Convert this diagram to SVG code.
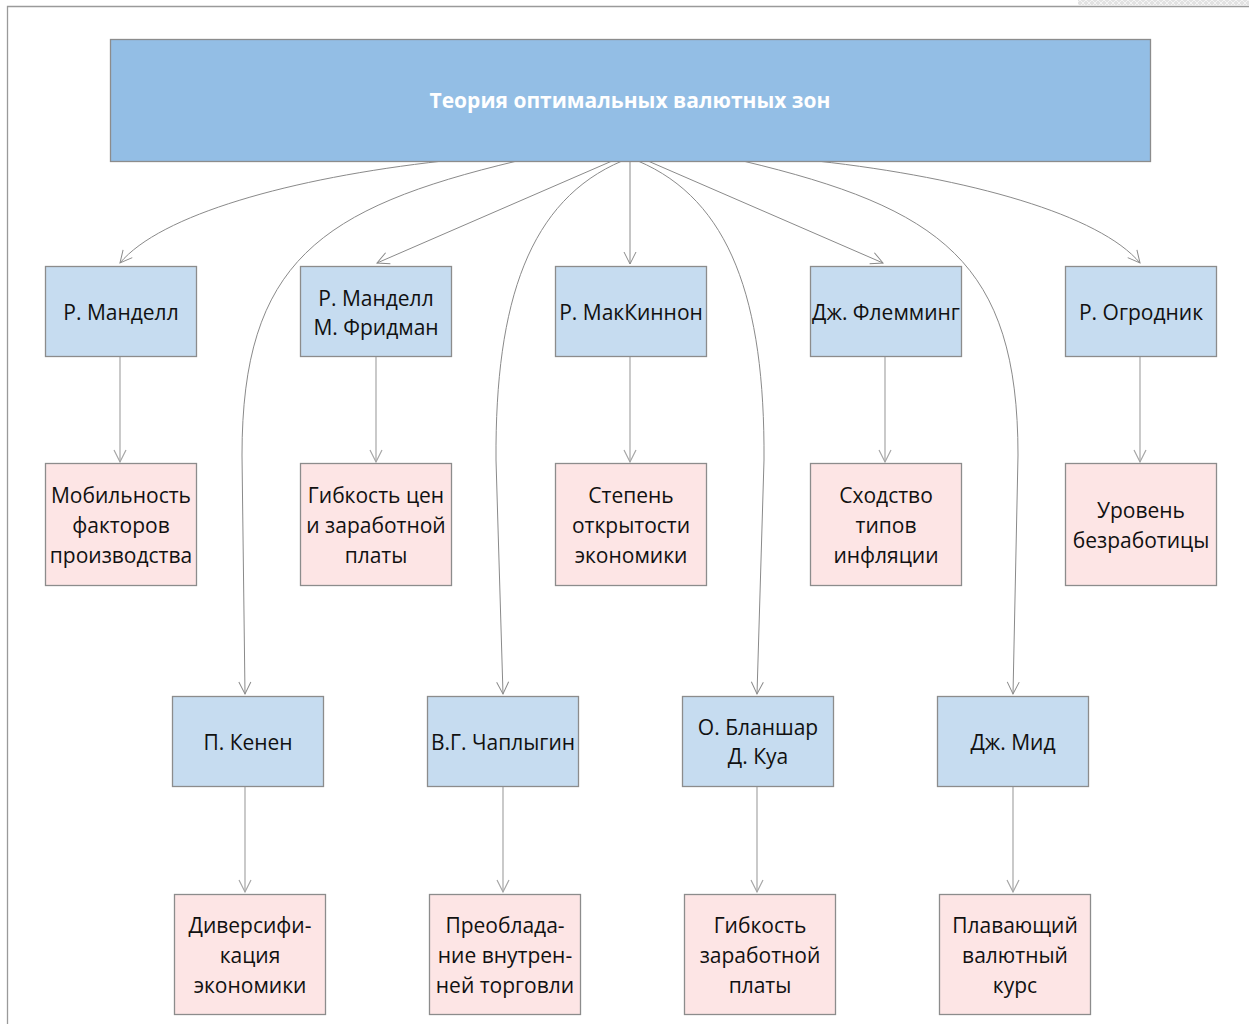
<svg xmlns="http://www.w3.org/2000/svg" width="1249" height="1025" viewBox="0 0 1249 1025">
<style>
  .frame{stroke:#9a9a9a;stroke-width:1.3;fill:none}
  .top{fill:#93bee5;stroke:#8c8c8c;stroke-width:1.3}
  .who{fill:#c6dcf0;stroke:#8c8c8c;stroke-width:1.3}
  .what{fill:#fde5e5;stroke:#8c8c8c;stroke-width:1.3}
  .t{font-family:"Open Sans","Noto Sans","DejaVu Sans",sans-serif;font-size:21px;fill:#111;text-anchor:middle}
  .title{font-family:"Open Sans","Noto Sans","DejaVu Sans",sans-serif;font-size:21px;font-weight:bold;fill:#fff;text-anchor:middle}
  .c{fill:none;stroke:#8a8a8a;stroke-width:1;marker-end:url(#arr)}
  .v{fill:none;stroke:#a6a6a6;stroke-width:1.2;marker-end:url(#arr2)}
</style>
<defs>
  <marker id="arr" markerUnits="userSpaceOnUse" markerWidth="16" markerHeight="16" viewBox="0 0 16 16" refX="13" refY="8" orient="auto">
    <path d="M1,2 L13,8 L1,14" fill="none" stroke="#8a8a8a" stroke-width="1"/>
  </marker>
  <marker id="arr2" markerUnits="userSpaceOnUse" markerWidth="16" markerHeight="16" viewBox="0 0 16 16" refX="13" refY="8" orient="auto">
    <path d="M1,2 L13,8 L1,14" fill="none" stroke="#a6a6a6" stroke-width="1.2"/>
  </marker>
  <pattern id="lat" width="12" height="6" patternUnits="userSpaceOnUse">
    <rect width="12" height="6" fill="#e2e2e2"/>
    <path d="M0,0 L6,6 L12,0 M0,6 L6,0 L12,6" stroke="#f4f4f4" stroke-width="1" fill="none"/>
  </pattern>
</defs>
<rect width="1249" height="1025" fill="#fff"/>
<rect x="1078" y="0" width="171" height="5" fill="url(#lat)"/>
<path class="frame" d="M7.5,1024 L7.5,6.5 L1249,6.5"/>

<g id="connectors">
  <path class="c" d="M443,161 C290,178 160,215 120,263"/>
  <path class="c" d="M612,161 L377,263"/>
  <path class="c" d="M630,161 L630,264"/>
  <path class="c" d="M648,161 L883,263"/>
  <path class="c" d="M817,161 C970,178 1100,215 1140,263"/>
  <path class="c" d="M517,161 C320,208 242,262 242,455 L245,694"/>
  <path class="c" d="M622,161 C530,200 495,300 496,460 L503,694"/>
  <path class="c" d="M638,161 C730,200 765,300 764,460 L757,694"/>
  <path class="c" d="M743,161 C940,208 1018,262 1018,455 L1013,694"/>
  <path class="v" d="M120,356 L120,462"/>
  <path class="v" d="M376,356 L376,462"/>
  <path class="v" d="M630,356 L630,462"/>
  <path class="v" d="M885,356 L885,462"/>
  <path class="v" d="M1140,356 L1140,462"/>
  <path class="v" d="M245,786 L245,892"/>
  <path class="v" d="M503,786 L503,892"/>
  <path class="v" d="M757,786 L757,892"/>
  <path class="v" d="M1013,786 L1013,892"/>
</g>

<g id="root">
  <rect class="top" x="110.5" y="39.5" width="1040" height="122"/>
  <text class="title" x="630" y="108">Теория оптимальных валютных зон</text>
</g>

<g id="mundell">
  <rect class="who" x="45.5" y="266.5" width="151" height="90"/>
  <text class="t" x="121" y="320">Р. Манделл</text>
</g>
<g id="mundell-friedman">
  <rect class="who" x="300.5" y="266.5" width="151" height="90"/>
  <text class="t" x="376" y="306">Р. Манделл</text>
  <text class="t" x="376" y="335">М. Фридман</text>
</g>
<g id="mckinnon">
  <rect class="who" x="555.5" y="266.5" width="151" height="90"/>
  <text class="t" x="631" y="320">Р. МакКиннон</text>
</g>
<g id="fleming">
  <rect class="who" x="810.5" y="266.5" width="151" height="90"/>
  <text class="t" x="886" y="320">Дж. Флемминг</text>
</g>
<g id="ogrodnik">
  <rect class="who" x="1065.5" y="266.5" width="151" height="90"/>
  <text class="t" x="1141" y="320">Р. Огродник</text>
</g>

<g id="mobility">
  <rect class="what" x="45.5" y="463.5" width="151" height="122"/>
  <text class="t" x="121" y="503">Мобильность</text>
  <text class="t" x="121" y="533">факторов</text>
  <text class="t" x="121" y="563">производства</text>
</g>
<g id="flexibility">
  <rect class="what" x="300.5" y="463.5" width="151" height="122"/>
  <text class="t" x="376" y="503">Гибкость цен</text>
  <text class="t" x="376" y="533">и заработной</text>
  <text class="t" x="376" y="563">платы</text>
</g>
<g id="openness">
  <rect class="what" x="555.5" y="463.5" width="151" height="122"/>
  <text class="t" x="631" y="503">Степень</text>
  <text class="t" x="631" y="533">открытости</text>
  <text class="t" x="631" y="563">экономики</text>
</g>
<g id="inflation">
  <rect class="what" x="810.5" y="463.5" width="151" height="122"/>
  <text class="t" x="886" y="503">Сходство</text>
  <text class="t" x="886" y="533">типов</text>
  <text class="t" x="886" y="563">инфляции</text>
</g>
<g id="unemployment">
  <rect class="what" x="1065.5" y="463.5" width="151" height="122"/>
  <text class="t" x="1141" y="518">Уровень</text>
  <text class="t" x="1141" y="548">безработицы</text>
</g>

<g id="kenen">
  <rect class="who" x="172.5" y="696.5" width="151" height="90"/>
  <text class="t" x="248" y="750">П. Кенен</text>
</g>
<g id="chaplygin">
  <rect class="who" x="427.5" y="696.5" width="151" height="90"/>
  <text class="t" x="503" y="750">В.Г. Чаплыгин</text>
</g>
<g id="blanchard">
  <rect class="who" x="682.5" y="696.5" width="151" height="90"/>
  <text class="t" x="758" y="735">О. Бланшар</text>
  <text class="t" x="758" y="764">Д. Куа</text>
</g>
<g id="mead">
  <rect class="who" x="937.5" y="696.5" width="151" height="90"/>
  <text class="t" x="1013" y="750">Дж. Мид</text>
</g>

<g id="diversification">
  <rect class="what" x="174.5" y="894.5" width="151" height="120"/>
  <text class="t" x="250" y="933">Диверсифи-</text>
  <text class="t" x="250" y="963">кация</text>
  <text class="t" x="250" y="993">экономики</text>
</g>
<g id="domestic-trade">
  <rect class="what" x="429.5" y="894.5" width="151" height="120"/>
  <text class="t" x="505" y="933">Преоблада-</text>
  <text class="t" x="505" y="963">ние внутрен-</text>
  <text class="t" x="505" y="993">ней торговли</text>
</g>
<g id="wage-flexibility">
  <rect class="what" x="684.5" y="894.5" width="151" height="120"/>
  <text class="t" x="760" y="933">Гибкость</text>
  <text class="t" x="760" y="963">заработной</text>
  <text class="t" x="760" y="993">платы</text>
</g>
<g id="floating-rate">
  <rect class="what" x="939.5" y="894.5" width="151" height="120"/>
  <text class="t" x="1015" y="933">Плавающий</text>
  <text class="t" x="1015" y="963">валютный</text>
  <text class="t" x="1015" y="993">курс</text>
</g>
</svg>
